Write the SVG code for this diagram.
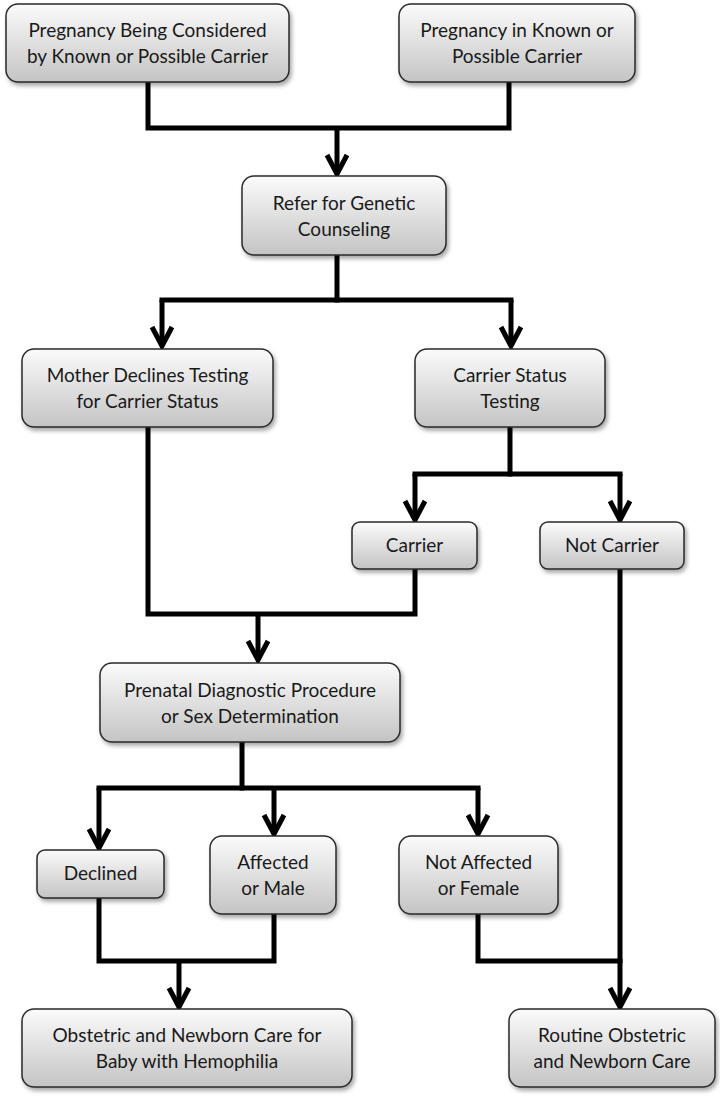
<svg xmlns="http://www.w3.org/2000/svg" width="720" height="1097" viewBox="0 0 720 1097">
<defs>
<linearGradient id="g" x1="0" y1="0" x2="0" y2="1">
<stop offset="0" stop-color="#fbfbfb"/>
<stop offset="1" stop-color="#c4c4c4"/>
</linearGradient>
<filter id="sh" x="-10%" y="-10%" width="125%" height="140%">
<feDropShadow dx="2" dy="3" stdDeviation="2" flood-color="#000" flood-opacity="0.35"/>
</filter>
<marker id="ah" viewBox="-24 -14 28 28" refX="0" refY="0" markerWidth="28" markerHeight="28" markerUnits="userSpaceOnUse" orient="auto">
<path d="M-19,-10 L0,0 L-19,10" fill="none" stroke="#000" stroke-width="5" stroke-linejoin="miter" stroke-miterlimit="6"/>
</marker>
<style>
.box{fill:url(#g);stroke:#2a2a2a;stroke-width:1.5;filter:url(#sh)}
.t{font-family:Lato,"Open Sans","Liberation Sans",sans-serif;font-size:19px;fill:#1a1a1a;text-anchor:middle}
.c{fill:none;stroke:#000;stroke-width:5;stroke-linejoin:miter;stroke-linecap:square}
.a{fill:none;stroke:#000;stroke-width:5;marker-end:url(#ah)}
</style>
</defs>
<rect width="720" height="1097" fill="#fff"/>
<g id="connectors">
<path class="c" d="M148,82 V128 H509 V82"/>
<path class="a" d="M337,128 V174"/>
<path class="c" d="M337,255 V300"/>
<path class="c" d="M162,300 H511"/>
<path class="a" d="M162,300 V346"/>
<path class="a" d="M511,300 V346"/>
<path class="c" d="M510,427 V474"/>
<path class="c" d="M415,474 H620"/>
<path class="a" d="M415,474 V520"/>
<path class="a" d="M620,474 V520"/>
<path class="c" d="M148,427 V614 H415 V569"/>
<path class="a" d="M258,614 V660"/>
<path class="c" d="M242,742 V788"/>
<path class="c" d="M99,788 H478"/>
<path class="a" d="M99,788 V848"/>
<path class="a" d="M274,788 V834"/>
<path class="a" d="M478,788 V834"/>
<path class="c" d="M99,898 V961 H274 V914"/>
<path class="a" d="M179,961 V1007"/>
<path class="c" d="M478,914 V961 H620"/>
<path class="a" d="M620,569 V1007"/>
</g>
<g id="n1"><rect class="box" x="6" y="4" width="283" height="78" rx="12"/>
<text class="t" x="147.5" y="37">Pregnancy Being Considered</text><text class="t" x="147.5" y="63">by Known or Possible Carrier</text></g>
<g id="n2"><rect class="box" x="399" y="4" width="236" height="78" rx="12"/>
<text class="t" x="517" y="37">Pregnancy in Known or</text><text class="t" x="517" y="63">Possible Carrier</text></g>
<g id="n3"><rect class="box" x="242" y="176" width="204" height="79" rx="12"/>
<text class="t" x="344" y="210">Refer for Genetic</text><text class="t" x="344" y="236">Counseling</text></g>
<g id="n4"><rect class="box" x="22" y="349" width="251" height="78" rx="12"/>
<text class="t" x="147.5" y="382">Mother Declines Testing</text><text class="t" x="147.5" y="408">for Carrier Status</text></g>
<g id="n5"><rect class="box" x="415" y="349" width="190" height="78" rx="12"/>
<text class="t" x="510" y="382">Carrier Status</text><text class="t" x="510" y="408">Testing</text></g>
<g id="n6"><rect class="box" x="352" y="522" width="125" height="47" rx="8"/>
<text class="t" x="414.5" y="552">Carrier</text></g>
<g id="n7"><rect class="box" x="540" y="522" width="144" height="47" rx="8"/>
<text class="t" x="612" y="552">Not Carrier</text></g>
<g id="n8"><rect class="box" x="100" y="663" width="300" height="79" rx="12"/>
<text class="t" x="250" y="697">Prenatal Diagnostic Procedure</text><text class="t" x="250" y="723">or Sex Determination</text></g>
<g id="n9"><rect class="box" x="37" y="850" width="127" height="48" rx="8"/>
<text class="t" x="100.5" y="880">Declined</text></g>
<g id="n10"><rect class="box" x="210" y="836" width="126" height="78" rx="12"/>
<text class="t" x="273" y="869">Affected</text><text class="t" x="273" y="895">or Male</text></g>
<g id="n11"><rect class="box" x="399" y="836" width="159" height="78" rx="12"/>
<text class="t" x="478.5" y="869">Not Affected</text><text class="t" x="478.5" y="895">or Female</text></g>
<g id="n12"><rect class="box" x="22" y="1009" width="330" height="78" rx="12"/>
<text class="t" x="187" y="1042">Obstetric and Newborn Care for</text><text class="t" x="187" y="1068">Baby with Hemophilia</text></g>
<g id="n13"><rect class="box" x="509" y="1009" width="206" height="78" rx="12"/>
<text class="t" x="612" y="1042">Routine Obstetric</text><text class="t" x="612" y="1068">and Newborn Care</text></g>
</svg>
